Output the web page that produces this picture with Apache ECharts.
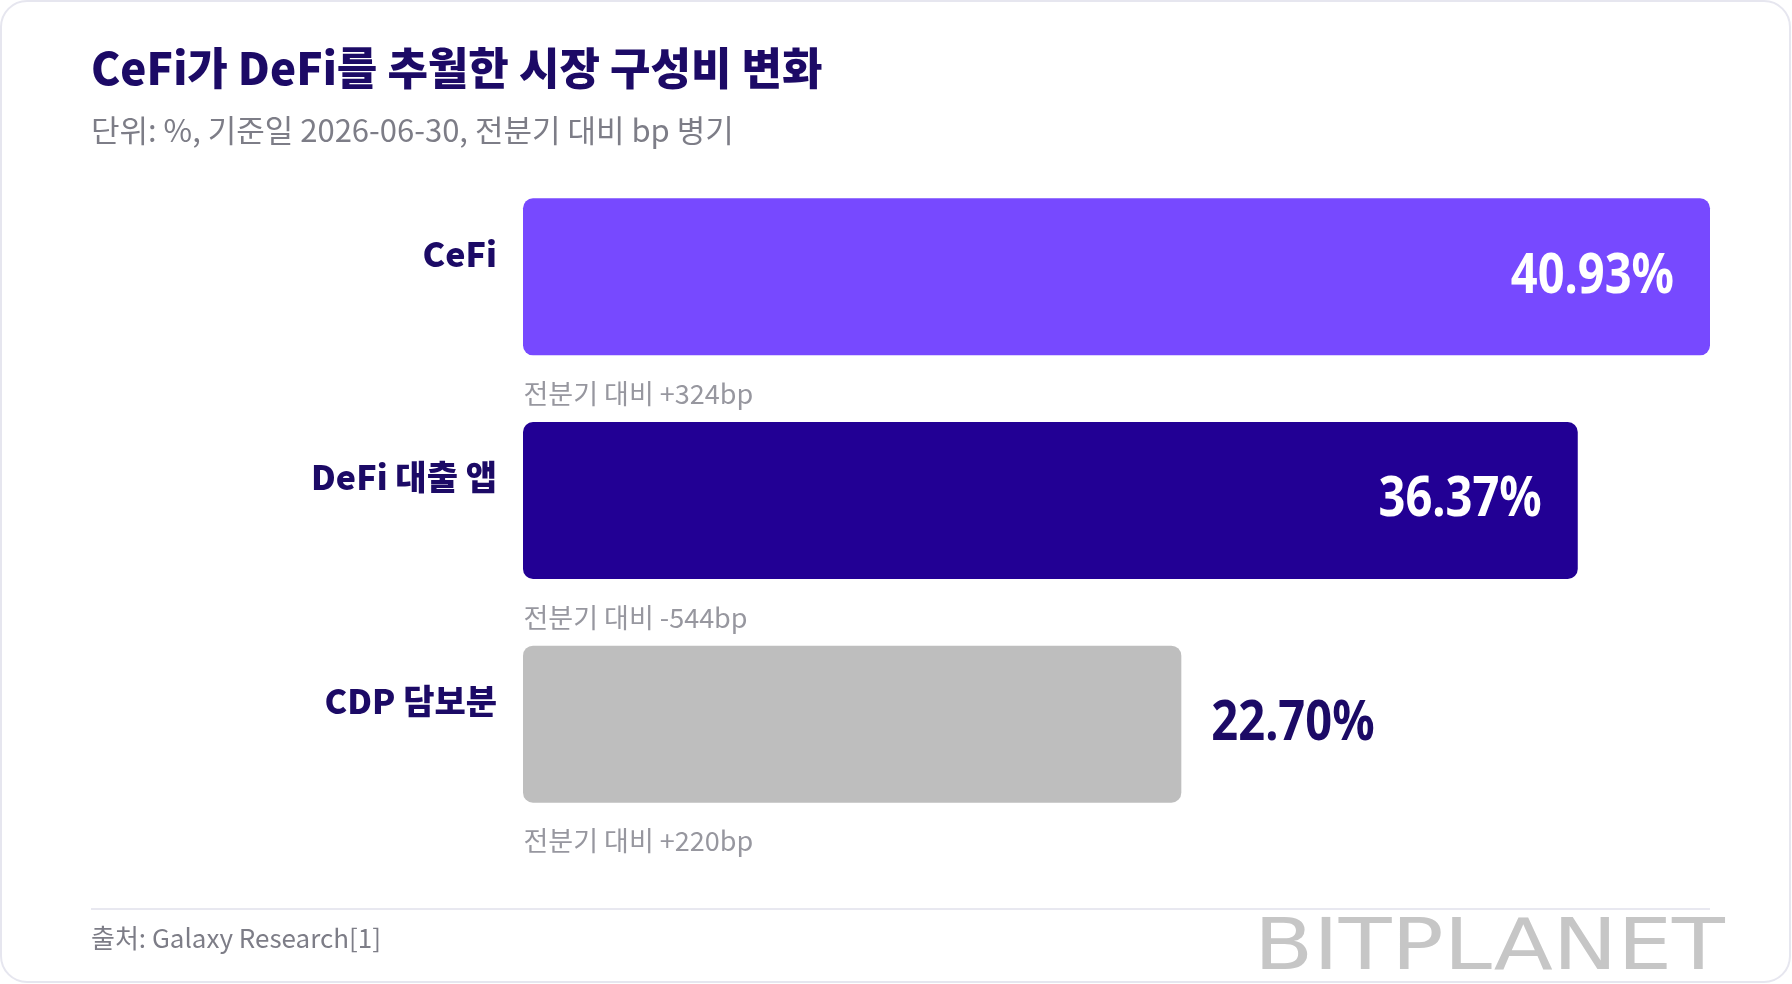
<!DOCTYPE html>
<html>
<head>
<meta charset="utf-8">
<title>CeFi가 DeFi를 추월한 시장 구성비 변화</title>
<script src="https://cdn.jsdelivr.net/npm/echarts@6/dist/echarts.min.js"></script>
<style>
	html, body { margin: 0; padding: 0; background: #fff; }
	#chart { width: 1792px; height: 984px; }
</style>
</head>
<body>
<div id="chart"></div>
<script>
// 데이터 (기준일 2026-06-30)
var categories = ['CeFi', 'DeFi 대출 앱', 'CDP 담보분'];
var shares = [40.93, 36.37, 22.70];
var bpChanges = [324, -544, 220];

var barColors = ['#7749FF', '#220094', '#BEBEBE'];
var navy = '#1c0a66';
var gray = '#7d7d87';
var krFont = '"Noto Sans CJK KR", "Noto Sans", sans-serif';

var chart = echarts.init(document.getElementById('chart'));

var barData = shares.map(function(v, i) {
	return {
		value : v,
		itemStyle : { color : barColors[i], borderRadius : 10 }
	};
});

var valueData = shares.map(function(v, i) {
	return [v, i];
});

var noteData = categories.map(function(c, i) {
	return [0, c];
});

// 값 라벨: 좁은 글꼴이 없어서 가로로 눌러서 그림
function renderValueLabel(params, api) {
	var v = api.value(0);
	var pt = api.coord([v, api.value(1)]);
	var outside = params.dataIndex == 2;
	return {
		type : 'text',
		x : outside ? pt[0] + 30 : pt[0] - 36,
		y : pt[1],
		scaleX : 0.84,
		z2 : 10,
		style : {
			text : v.toFixed(2) + '%',
			fill : outside ? navy : '#fff',
			font : 'bold 56px "Noto Sans", sans-serif',
			align : outside ? 'left' : 'right',
			verticalAlign : 'middle'
		}
	};
}

chart.setOption({
	animation : false,
	backgroundColor : '#fff',
	grid : { left : 523, right : 82, top : 165, bottom : 148 },
	xAxis : {
		type : 'value',
		min : 0,
		max : function(v) { return v.max; },
		show : false,
		splitLine : { show : false }
	},
	yAxis : {
		type : 'category',
		data : categories,
		inverse : true,
		axisLine : { show : false },
		axisTick : { show : false },
		axisLabel : {
			margin : 26,
			color : navy,
			fontFamily : krFont,
			fontWeight : 900,
			fontSize : 34,
			verticalAlign : 'bottom',
			lineHeight : 46
		}
	},
	series : [{
		type : 'bar',
		data : barData,
		barWidth : 157,
		z : 2,
		silent : true
	}, {
		type : 'custom',
		data : valueData,
		encode : { x : 0, y : 1 },
		z : 5,
		silent : true,
		renderItem : renderValueLabel
	}, {
		type : 'scatter',
		data : noteData,
		symbolSize : 1,
		silent : true,
		itemStyle : { color : 'rgba(0,0,0,0)' },
		label : {
			show : true,
			position : 'right',
			distance : 0,
			offset : [0, 117],
			color : gray,
			fontFamily : krFont,
			fontSize : 27,
			formatter : function(p) {
				var bp = bpChanges[p.dataIndex];
				return '전분기 대비 ' + (bp > 0 ? '+' : '') + bp + 'bp';
			}
		}
	}],
	graphic : [{
		type : 'rect',
		z : 0,
		shape : { x : 1, y : 1, width : 1789, height : 981, r : 26 },
		style : { fill : '#fff', stroke : '#e6e6ef', lineWidth : 2 }
	}, {
		type : 'text',
		z : 10,
		left : 91,
		top : 46,
		style : {
			text : 'CeFi가 DeFi를 추월한 시장 구성비 변화',
			fill : navy,
			font : '900 44px ' + krFont
		}
	}, {
		type : 'text',
		z : 10,
		left : 91,
		top : 115,
		style : {
			text : '단위: %, 기준일 2026-06-30, 전분기 대비 bp 병기',
			fill : gray,
			font : '31px ' + krFont
		}
	}, {
		type : 'line',
		z : 10,
		shape : { x1 : 91, y1 : 909, x2 : 1710, y2 : 909 },
		style : { stroke : '#e8e8f0', lineWidth : 2 }
	}, {
		type : 'text',
		z : 10,
		left : 91,
		top : 925,
		style : {
			text : '출처: Galaxy Research[1]',
			fill : gray,
			font : '26px ' + krFont
		}
	}, {
		type : 'text',
		z : 10,
		x : 1254,
		y : 914,
		scaleX : 1.2,
		style : {
			text : 'BITPLANET',
			fill : '#c6c6c6',
			font : '72px "DejaVu Sans", sans-serif'
		}
	}]
});
</script>
</body>
</html>
